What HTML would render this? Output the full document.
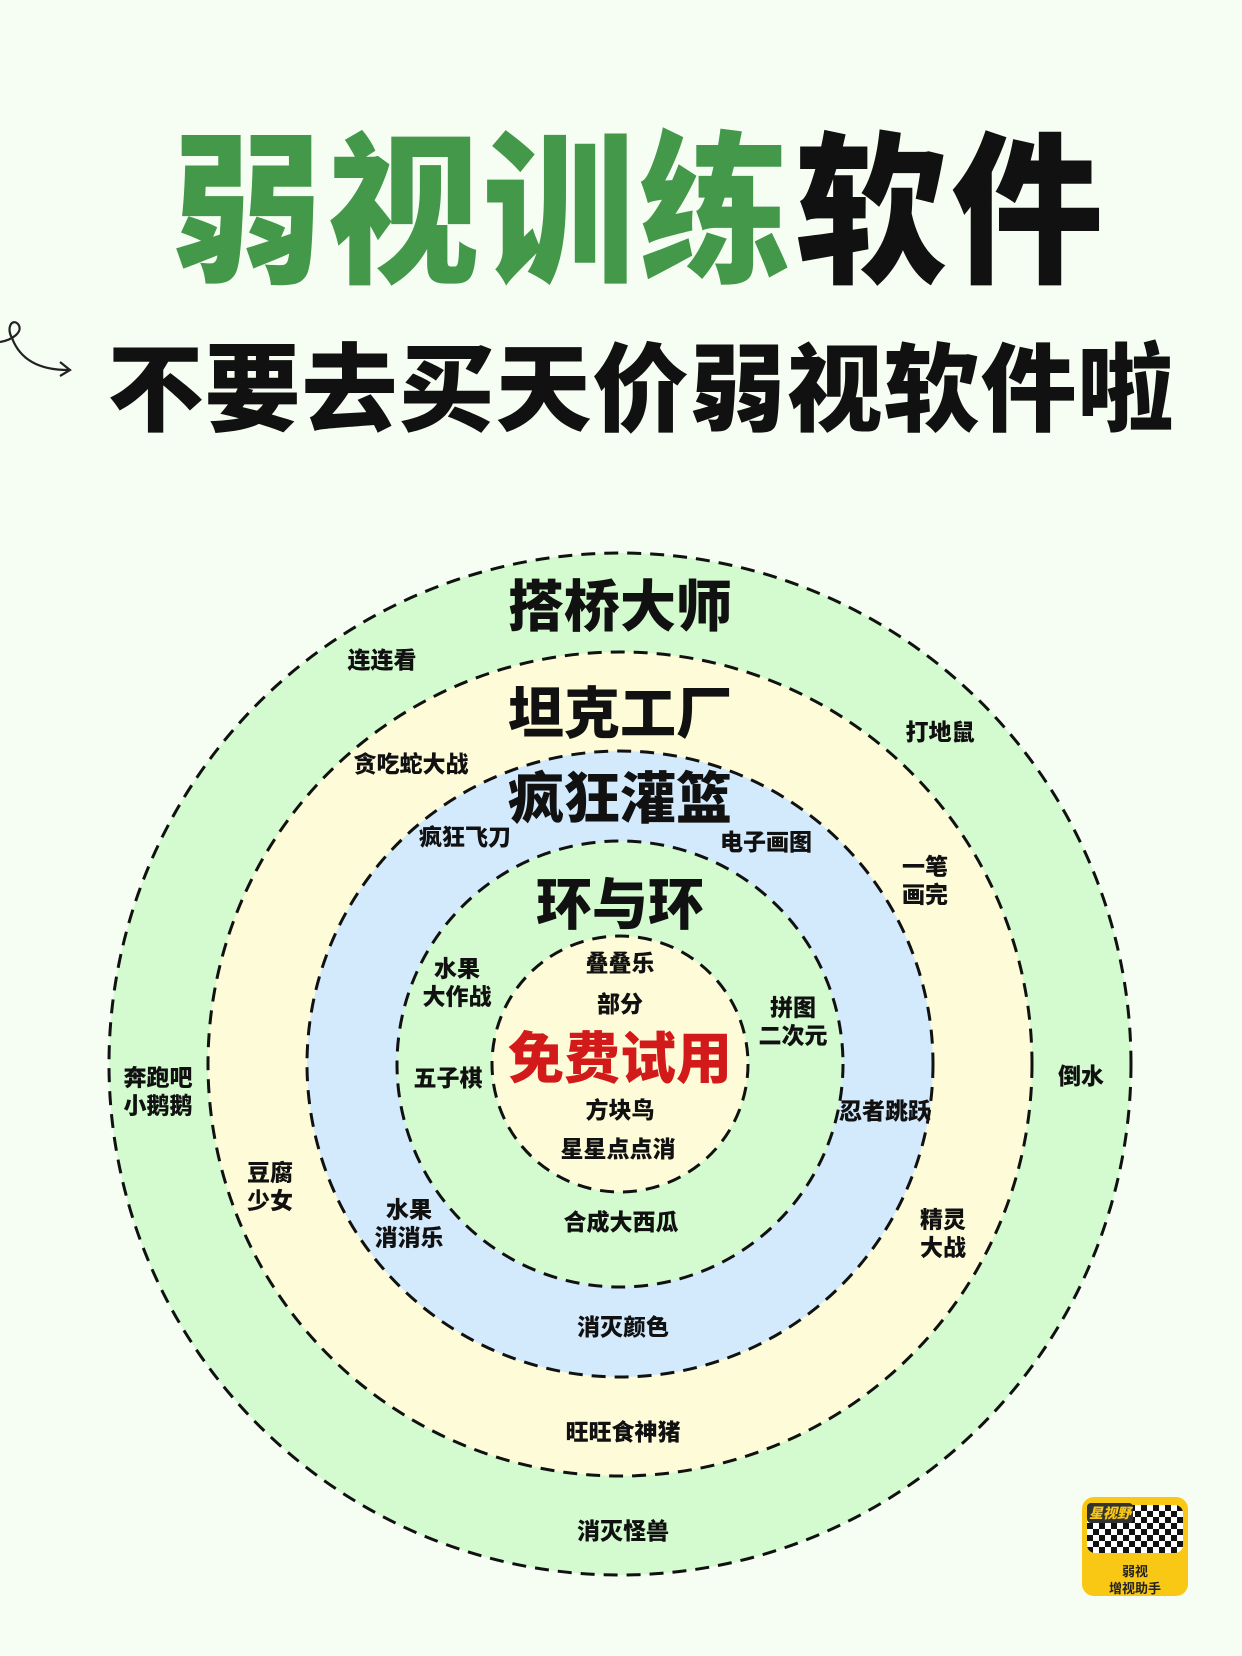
<!DOCTYPE html>
<html><head><meta charset="utf-8"><style>
html,body{margin:0;padding:0}
body{width:1242px;height:1656px;background:#f6fdf3;position:relative;overflow:hidden;font-family:"Liberation Sans","Noto Sans CJK SC",sans-serif}
.t{position:absolute;white-space:nowrap;transform:translate(-50%,-50%);font-weight:900;color:#111;text-align:center;line-height:1.2}
.s{font-size:23px;font-weight:900}
.b{font-size:56px}
</style></head><body>
<div class="t" style="left:639px;top:214px;font-size:152px;letter-spacing:4px;transform:translate(-50%,-50%) scaleY(1.08)"><span style="color:#43984a">弱视训练</span><span style="color:#111">软件</span></div>
<div class="t" style="left:641px;top:391px;font-size:96px;letter-spacing:1px">不要去买天价弱视软件啦</div>
<svg style="position:absolute;left:0;top:318px" width="80" height="80" viewBox="0 0 80 80">
<path d="M0 24 C12 22 24 14 18 6 C12 0 6 10 12 20 C18 36 32 52 68 52" fill="none" stroke="#222" stroke-width="2.2"/>
<path d="M60 44 L70 52 L60 58" fill="none" stroke="#222" stroke-width="2.2"/>
</svg>
<svg style="position:absolute;left:0;top:0" width="1242" height="1656">
<g stroke="#111" stroke-width="3" stroke-dasharray="14 9">
<circle cx="620" cy="1064" r="511" fill="#d3fbcf"/>
<circle cx="620" cy="1064" r="412" fill="#fefcd8"/>
<circle cx="620" cy="1064" r="313" fill="#d3eafd"/>
<circle cx="620" cy="1064" r="223" fill="#d3fbcf"/>
<circle cx="620" cy="1064" r="128" fill="#fefcd8"/>
</g></svg>
<div class="t b" style="left:620px;top:607px">搭桥大师</div>
<div class="t b" style="left:620px;top:714px">坦克工厂</div>
<div class="t b" style="left:620px;top:799px">疯狂灌篮</div>
<div class="t b" style="left:620px;top:905px">环与环</div>
<div class="t b" style="left:620px;top:1059px;color:#d21a1a">免费试用</div>
<div class="t s" style="left:382px;top:661px">连连看</div>
<div class="t s" style="left:940px;top:733px">打地鼠</div>
<div class="t s" style="left:411px;top:765px">贪吃蛇大战</div>
<div class="t s" style="left:465px;top:838px">疯狂飞刀</div>
<div class="t s" style="left:766px;top:843px">电子画图</div>
<div class="t s" style="left:925px;top:881px">一笔<br>画完</div>
<div class="t s" style="left:457px;top:983px">水果<br>大作战</div>
<div class="t s" style="left:620px;top:964px">叠叠乐</div>
<div class="t s" style="left:620px;top:1005px">部分</div>
<div class="t s" style="left:793px;top:1022px">拼图<br>二次元</div>
<div class="t s" style="left:448px;top:1079px">五子棋</div>
<div class="t s" style="left:158px;top:1092px">奔跑吧<br>小鹅鹅</div>
<div class="t s" style="left:1081px;top:1077px">倒水</div>
<div class="t s" style="left:620px;top:1111px">方块鸟</div>
<div class="t s" style="left:885px;top:1112px">忍者跳跃</div>
<div class="t s" style="left:618px;top:1150px">星星点点消</div>
<div class="t s" style="left:270px;top:1187px">豆腐<br>少女</div>
<div class="t s" style="left:409px;top:1224px">水果<br>消消乐</div>
<div class="t s" style="left:621px;top:1223px">合成大西瓜</div>
<div class="t s" style="left:943px;top:1234px">精灵<br>大战</div>
<div class="t s" style="left:623px;top:1328px">消灭颜色</div>
<div class="t s" style="left:623px;top:1433px">旺旺食神猪</div>
<div class="t s" style="left:623px;top:1532px">消灭怪兽</div>
<div style="position:absolute;left:1082px;top:1497px;width:106px;height:99px;background:#f9c814;border-radius:12px;overflow:hidden">
<div style="position:absolute;left:5px;top:8px;width:96px;height:48px;border-radius:8px;background-color:#fff;background-image:linear-gradient(45deg,#111 25%,transparent 25%,transparent 75%,#111 75%),linear-gradient(45deg,#111 25%,transparent 25%,transparent 75%,#111 75%);background-size:12px 12px;background-position:0 0,6px 6px"></div>
<div style="position:absolute;left:5px;top:6px;width:46px;height:20px;background:#333;color:#f9c814;font-size:14px;font-weight:900;font-style:italic;text-align:center;line-height:20px;border-radius:4px">星视野</div>
<div style="position:absolute;left:0;top:66px;width:106px;text-align:center;font-size:13px;font-weight:700;line-height:17px;color:#222">弱视<br>增视助手</div>
</div>
</body></html>
